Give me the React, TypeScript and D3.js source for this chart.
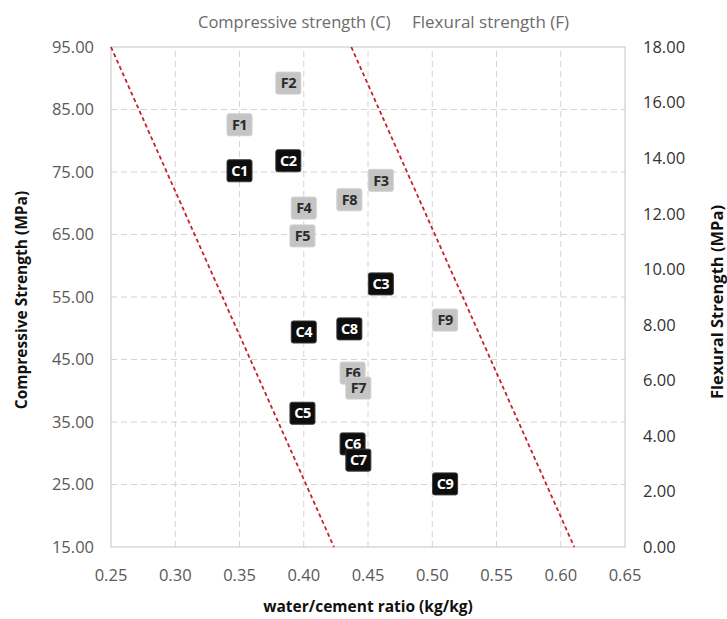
import React from "react";
import * as d3 from "d3";

// Mix identifiers, water/cement ratios and measured strengths
const mixes = ["1", "2", "3", "4", "5", "6", "7", "8", "9"];
const wcRatio = [0.35, 0.388, 0.46, 0.4, 0.399, 0.438, 0.4425, 0.4355, 0.51];
const compressive = [75.2, 76.8, 57.1, 49.4, 36.4, 31.5, 28.9, 49.9, 25.1];
const flexural = [15.2, 16.7, 13.2, 12.2, 11.2, 6.26, 5.72, 12.5, 8.17];

// Axis ticks
const xTicks = [0.25, 0.3, 0.35, 0.4, 0.45, 0.5, 0.55, 0.6, 0.65];
const yLeftTicks = [15, 25, 35, 45, 55, 65, 75, 85, 95];
const yRightTicks = [0, 2, 4, 6, 8, 10, 12, 14, 16, 18];

// Boundary lines (w/c ratio at 95 MPa and at 15 MPa)
const boundaryLines = [
  [[0.25, 95], [0.4235, 15]],
  [[0.437, 95], [0.6105, 15]],
];

const W = 727;
const H = 619;
const FONT = "'Open Sans', 'DejaVu Sans', sans-serif";

export default function App() {
  const x = d3.scaleLinear().domain([0.25, 0.65]).range([111, 625]);
  const yL = d3.scaleLinear().domain([15, 95]).range([547, 47]);
  const yR = d3.scaleLinear().domain([0, 18]).range([547, 47]);
  const line = d3.line<number[]>().x((d) => x(d[0])).y((d) => yL(d[1]));

  const bw = 25;
  const bh = 22;

  const marker = (
    key: string,
    cx: number,
    cy: number,
    label: string,
    dark: boolean
  ) => (
    <g key={key}>
      <rect
        x={cx - bw / 2}
        y={cy - bh / 2}
        width={bw}
        height={bh}
        rx={2}
        fill={dark ? "#0d0d0d" : "#c4c4c4"}
        stroke={dark ? "#3a3a3a" : "#d0d0d0"}
        strokeWidth={1}
      />
      <text
        x={cx}
        y={cy}
        dy="0.36em"
        textAnchor="middle"
        fontSize={14.5}
        fontWeight={700}
        letterSpacing={-0.5}
        fill={dark ? "#ffffff" : "#2b2b2b"}
        fontFamily={FONT}
      >
        {label}
      </text>
    </g>
  );

  return (
    <svg
      width={W}
      height={H}
      style={{ position: "absolute", left: 0, top: 0, background: "#fff" }}
    >
      {/* legend */}
      <text x={198} y={22} dy="0.36em" fontSize={16.5} fill="#6b6b6b" fontFamily={FONT}>
        Compressive strength (C)
      </text>
      <text x={412} y={22} dy="0.36em" fontSize={17} fill="#6b6b6b" fontFamily={FONT}>
        Flexural strength (F)
      </text>

      {/* grid */}
      {xTicks.slice(1, -1).map((t) => (
        <line
          key={"gx" + t}
          x1={x(t)}
          x2={x(t)}
          y1={yL(15)}
          y2={yL(95)}
          stroke="#d4d4d4"
          strokeDasharray="6,4"
        />
      ))}
      {yLeftTicks.slice(1, -1).map((t) => (
        <line
          key={"gy" + t}
          x1={x(0.25)}
          x2={x(0.65)}
          y1={yL(t)}
          y2={yL(t)}
          stroke="#d4d4d4"
          strokeDasharray="6,4"
        />
      ))}
      <rect
        x={x(0.25)}
        y={yL(95)}
        width={x(0.65) - x(0.25)}
        height={yL(15) - yL(95)}
        fill="none"
        stroke="#c4c4c4"
      />

      {/* boundary lines */}
      {boundaryLines.map((l, i) => (
        <path
          key={"bl" + i}
          d={line(l) || ""}
          fill="none"
          stroke="#c8202a"
          strokeWidth={1.8}
          strokeDasharray="4,3"
        />
      ))}

      {/* left axis labels */}
      {yLeftTicks.map((t) => (
        <text
          key={"yl" + t}
          x={94}
          y={yL(t)}
          dy="0.36em"
          textAnchor="end"
          fontSize={16.5}
          fill="#595959"
          fontFamily={FONT}
        >
          {t.toFixed(2)}
        </text>
      ))}
      {/* right axis labels */}
      {yRightTicks.map((t) => (
        <text
          key={"yr" + t}
          x={643}
          y={yR(t)}
          dy="0.36em"
          textAnchor="start"
          fontSize={16.5}
          fill="#333333"
          fontFamily={FONT}
        >
          {t.toFixed(2)}
        </text>
      ))}
      {/* bottom axis labels */}
      {xTicks.map((t) => (
        <text
          key={"xt" + t}
          x={x(t)}
          y={575}
          dy="0.36em"
          textAnchor="middle"
          fontSize={16.5}
          fill="#595959"
          fontFamily={FONT}
        >
          {t.toFixed(2)}
        </text>
      ))}

      {/* axis titles */}
      <text
        transform="translate(21,300) rotate(-90)"
        textAnchor="middle"
        dy="0.36em"
        fontSize={15.5}
        fontWeight={700}
        fill="#111"
        fontFamily={FONT}
      >
        Compressive Strength (MPa)
      </text>
      <text
        transform="translate(717,302) rotate(-90)"
        textAnchor="middle"
        dy="0.36em"
        fontSize={16.5}
        fontWeight={700}
        fill="#111"
        fontFamily={FONT}
      >
        Flexural Strength (MPa)
      </text>
      <text
        x={368}
        y={606}
        textAnchor="middle"
        dy="0.36em"
        fontSize={15.5}
        fontWeight={700}
        fill="#111"
        fontFamily={FONT}
      >
        water/cement ratio (kg/kg)
      </text>

      {/* flexural markers */}
      {mixes.map((m, i) =>
        marker("f" + m, x(wcRatio[i]), yR(flexural[i]), "F" + m, false)
      )}
      {/* compressive markers */}
      {mixes.map((m, i) =>
        marker("c" + m, x(wcRatio[i]), yL(compressive[i]), "C" + m, true)
      )}
    </svg>
  );
}
